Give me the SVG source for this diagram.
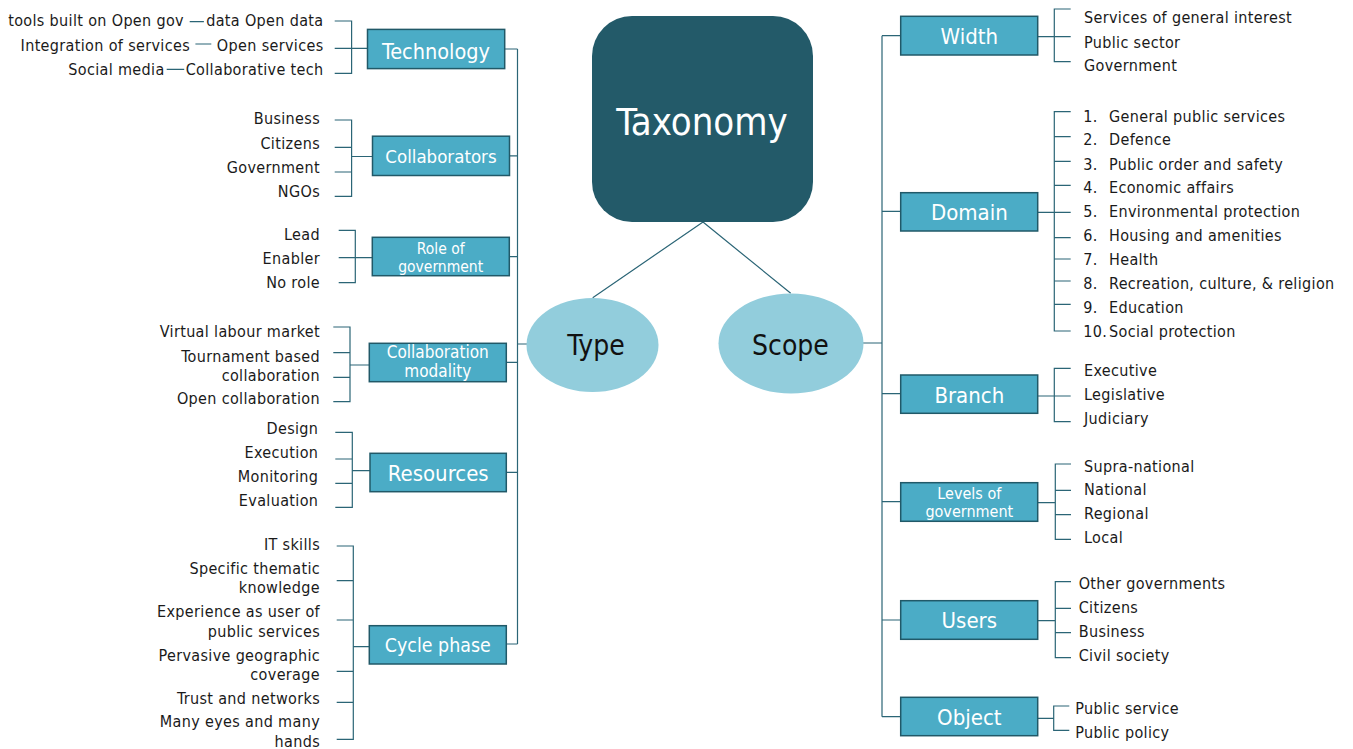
<svg xmlns="http://www.w3.org/2000/svg" width="1353" height="749" viewBox="0 0 1353 749">
<style>
.box{fill:#4bacc6;stroke:#215968;stroke-width:1.5}
.bt{fill:#ffffff;font-family:"DejaVu Sans Condensed","DejaVu Sans",sans-serif;text-anchor:middle}
.lt{fill:#1a1a1a;font-family:"DejaVu Sans Condensed","DejaVu Sans",sans-serif;font-size:16px;letter-spacing:0.35px}
.end{text-anchor:end}
.ln{stroke:#2b6576;stroke-width:1.2;fill:none}
.ell{fill:#92cddc}
</style>
<rect width="1353" height="749" fill="#ffffff"/>
<g id="connectors">
<path class="ln" d="M703 222 L592.7 297.7 M703 222 L790.7 293.3"/>
<path class="ln" d="M517.5 49 V644 M504.7 49 H517.5 M509.5 155.8 H517.5 M509.3 256.7 H517.5 M506.3 362.3 H517.5 M527 344 H517.5 M506.3 472.3 H517.5 M506.3 644 H517.5"/>
<path class="ln" d="M367.5 48.3 H334.7 M334.7 21 H351.6 V73.4 H334.7 M189.7 21.6 H203.9 M195.4 44 H211.3 M166.7 69.3 H184.2"/>
<path class="ln" d="M372.5 156.5 H351.6 M334.7 120 H351.6 V196.4 H334.7 M334.7 147.4 H351.6 M334.7 172 H351.6"/>
<path class="ln" d="M372.3 257.7 H338.7 M338.7 230.3 H355.3 V282.7 H338.7"/>
<path class="ln" d="M369.3 365 H350 M333.3 327 H350 V401.7 H333.3 M333.3 352.7 H350 M333.3 377.3 H350"/>
<path class="ln" d="M370 470.7 H352.3 M335.3 432.3 H352.3 V507.3 H335.3 M335.3 459 H352.3 M335.3 483.3 H352.3"/>
<path class="ln" d="M369.3 646.7 H353.3 M336.7 546 H353.3 V739.3 H336.7 M336.7 580.7 H353.3 M336.7 620 H353.3 M336.7 671.3 H353.3 M336.7 702.3 H353.3"/>
<path class="ln" d="M882 35.7 V716.7 M863 343 H882 M882 35.7 H901 M882 211.3 H901 M882 393.7 H901 M882 501.7 H901 M882 620 H901 M882 716.7 H901"/>
<path class="ln" d="M1038 36.7 H1070.7 M1070.7 9 H1054.3 V61.7 H1070.7"/>
<path class="ln" d="M1038 212.3 H1070.7 M1070.7 111.7 H1054.3 V331 H1070.7 M1054.3 136.7 H1070.7 M1054.3 161.3 H1070.7 M1054.3 185.3 H1070.7 M1054.3 237.7 H1070.7 M1054.3 259 H1070.7 M1054.3 281 H1070.7 M1054.3 304.3 H1070.7"/>
<path class="ln" d="M1038 396 H1070.7 M1070.7 368.3 H1054.3 V421.7 H1070.7"/>
<path class="ln" d="M1038 502.7 H1055.3 M1071 464 H1055.3 V539.3 H1071 M1055.3 490.3 H1071 M1055.3 514.7 H1071"/>
<path class="ln" d="M1038 620.7 H1055.3 M1071 581.7 H1055.3 V657.7 H1071 M1055.3 608.3 H1071 M1055.3 632.7 H1071"/>
<path class="ln" d="M1038 718.3 H1053.7 M1069.3 706 H1053.7 V730.3 H1069.3"/>
</g>
<g id="taxonomy">
<rect x="592" y="16" width="221" height="206" rx="40" fill="#235a69"/>
<text class="bt" x="702" y="135" font-size="38">Taxonomy</text>
</g>
<g id="type">
<ellipse class="ell" cx="592.5" cy="345" rx="66" ry="47"/>
<text x="596" y="355" font-size="28" fill="#111" font-family="DejaVu Sans Condensed, DejaVu Sans, sans-serif" text-anchor="middle">Type</text>
</g>
<g id="scope">
<ellipse class="ell" cx="791" cy="343.5" rx="72.5" ry="50"/>
<text x="790.5" y="355" font-size="28" fill="#111" font-family="DejaVu Sans Condensed, DejaVu Sans, sans-serif" text-anchor="middle">Scope</text>
</g>
<g id="technology">
<rect class="box" x="367.5" y="29.4" width="137.2" height="39.2"/>
<text class="bt" x="436" y="58.5" font-size="21.5">Technology</text>
<text class="lt end" x="184" y="26.4">tools built on Open gov</text>
<text class="lt end" x="323.5" y="26.4">data Open data</text>
<text class="lt end" x="190" y="50.7">Integration of services</text>
<text class="lt end" x="323.5" y="50.7">Open services</text>
<text class="lt end" x="164.6" y="75">Social media</text>
<text class="lt end" x="323.5" y="75">Collaborative tech</text>
</g>
<g id="collaborators">
<rect class="box" x="372.5" y="136.2" width="137" height="39.3"/>
<text class="bt" x="441" y="163" font-size="18.5">Collaborators</text>
<text class="lt end" x="320" y="124.4">Business</text>
<text class="lt end" x="320" y="148.7">Citizens</text>
<text class="lt end" x="320" y="173">Government</text>
<text class="lt end" x="320" y="197">NGOs</text>
</g>
<g id="role">
<rect class="box" x="372.3" y="237.3" width="137" height="38.4"/>
<text class="bt" x="440.7" y="254" font-size="15.5">Role of</text>
<text class="bt" x="440.7" y="271.7" font-size="15.5">government</text>
<text class="lt end" x="320" y="240">Lead</text>
<text class="lt end" x="320" y="264">Enabler</text>
<text class="lt end" x="320" y="287.7">No role</text>
</g>
<g id="modality">
<rect class="box" x="369.3" y="343.3" width="137" height="38.4"/>
<text class="bt" x="437.8" y="358.3" font-size="17">Collaboration</text>
<text class="bt" x="437.8" y="377.3" font-size="17">modality</text>
<text class="lt end" x="320" y="337.3">Virtual labour market</text>
<text class="lt end" x="320" y="361.7">Tournament based</text>
<text class="lt end" x="320" y="380.7">collaboration</text>
<text class="lt end" x="320" y="404.3">Open collaboration</text>
</g>
<g id="resources">
<rect class="box" x="370" y="453.3" width="136.3" height="38.4"/>
<text class="bt" x="438.2" y="480.7" font-size="22">Resources</text>
<text class="lt end" x="318.3" y="434">Design</text>
<text class="lt end" x="318.3" y="457.7">Execution</text>
<text class="lt end" x="318.3" y="481.7">Monitoring</text>
<text class="lt end" x="318.3" y="505.7">Evaluation</text>
</g>
<g id="cycle">
<rect class="box" x="369.3" y="625.7" width="137" height="38.3"/>
<text class="bt" x="437.8" y="651.7" font-size="19.4">Cycle phase</text>
<text class="lt end" x="320" y="550">IT skills</text>
<text class="lt end" x="320" y="574.3">Specific thematic</text>
<text class="lt end" x="320" y="592.7">knowledge</text>
<text class="lt end" x="320" y="617.3">Experience as user of</text>
<text class="lt end" x="320" y="636.7">public services</text>
<text class="lt end" x="320" y="660.7">Pervasive geographic</text>
<text class="lt end" x="320" y="680">coverage</text>
<text class="lt end" x="320" y="704">Trust and networks</text>
<text class="lt end" x="320" y="727.3">Many eyes and many</text>
<text class="lt end" x="320" y="746.7">hands</text>
</g>
<g id="width">
<rect class="box" x="900.7" y="16.3" width="137" height="38.7"/>
<text class="bt" x="969.3" y="44.3" font-size="22">Width</text>
<text class="lt" x="1084" y="23.3">Services of general interest</text>
<text class="lt" x="1084" y="47.7">Public sector</text>
<text class="lt" x="1084" y="71">Government</text>
</g>
<g id="domain">
<rect class="box" x="900.7" y="192.7" width="137" height="38.3"/>
<text class="bt" x="969.3" y="220" font-size="22">Domain</text>
<text class="lt" x="1083.3" y="121.7">1.</text><text class="lt" x="1109" y="121.7">General public services</text>
<text class="lt" x="1083.3" y="145.3">2.</text><text class="lt" x="1109" y="145.3">Defence</text>
<text class="lt" x="1083.3" y="169.7">3.</text><text class="lt" x="1109" y="169.7">Public order and safety</text>
<text class="lt" x="1083.3" y="193.3">4.</text><text class="lt" x="1109" y="193.3">Economic affairs</text>
<text class="lt" x="1083.3" y="217.3">5.</text><text class="lt" x="1109" y="217.3">Environmental protection</text>
<text class="lt" x="1083.3" y="241">6.</text><text class="lt" x="1109" y="241">Housing and amenities</text>
<text class="lt" x="1083.3" y="265">7.</text><text class="lt" x="1109" y="265">Health</text>
<text class="lt" x="1083.3" y="289">8.</text><text class="lt" x="1109" y="289">Recreation, culture, &amp; religion</text>
<text class="lt" x="1083.3" y="313.3">9.</text><text class="lt" x="1109" y="313.3">Education</text>
<text class="lt" x="1083.3" y="337.3">10.</text><text class="lt" x="1109" y="337.3">Social protection</text>
</g>
<g id="branch">
<rect class="box" x="900.7" y="375" width="137" height="38.3"/>
<text class="bt" x="969.3" y="403.3" font-size="22">Branch</text>
<text class="lt" x="1084" y="376">Executive</text>
<text class="lt" x="1084" y="400">Legislative</text>
<text class="lt" x="1084" y="424">Judiciary</text>
</g>
<g id="levels">
<rect class="box" x="900.7" y="482.7" width="137" height="38.6"/>
<text class="bt" x="969.3" y="499" font-size="16">Levels of</text>
<text class="bt" x="969.3" y="516.7" font-size="16">government</text>
<text class="lt" x="1084" y="471.7">Supra-national</text>
<text class="lt" x="1084" y="495.3">National</text>
<text class="lt" x="1084" y="519.3">Regional</text>
<text class="lt" x="1084" y="543.3">Local</text>
</g>
<g id="users">
<rect class="box" x="900.7" y="600.7" width="137" height="38.6"/>
<text class="bt" x="969.3" y="628.3" font-size="22">Users</text>
<text class="lt" x="1078.7" y="589.3">Other governments</text>
<text class="lt" x="1078.7" y="613.3">Citizens</text>
<text class="lt" x="1078.7" y="637">Business</text>
<text class="lt" x="1078.7" y="661">Civil society</text>
</g>
<g id="object">
<rect class="box" x="900.7" y="697.3" width="137" height="38.4"/>
<text class="bt" x="969.3" y="725" font-size="22">Object</text>
<text class="lt" x="1075.3" y="714.3">Public service</text>
<text class="lt" x="1075.3" y="738.3">Public policy</text>
</g>
</svg>
